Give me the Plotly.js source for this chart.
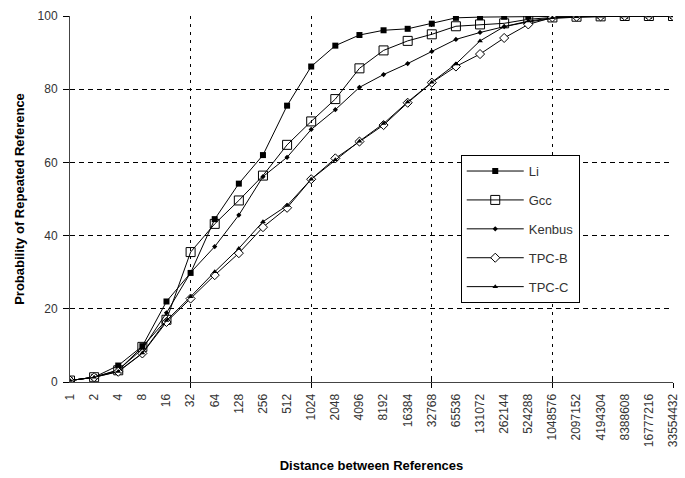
<!DOCTYPE html>
<html>
<head>
<meta charset="utf-8">
<script src="https://cdn.plot.ly/plotly-3.0.1.min.js"></script>
<style>html,body{margin:0;padding:0;background:#fff}#chart{width:685px;height:478px}</style>
</head>
<body>
<div id="chart"></div>
<script>
const distances = ["1","2","4","8","16","32","64","128","256","512","1024","2048","4096","8192","16384","32768","65536","131072","262144","524288","1048576","2097152","4194304","8388608","16777216","33554432"];
const li     = [0.4,1.3,4.5,9.8,22,29.8,44.5,54.2,62,75.5,86.2,91.9,94.8,96.1,96.5,97.9,99.5,99.7,99.8,99.9,99.9,100,100,100,100,100];
const gcc    = [0.4,1.3,3.2,9.6,17,35.5,43.2,49.6,56.4,64.8,71.2,77.3,85.7,90.6,93.2,95,97.2,97.7,98,99.1,99.6,99.8,99.9,100,100,100];
const kenbus = [0.4,1.3,3.3,9,18.9,29.9,37,45.6,56.1,61.4,69,74.4,80.5,84,87,90.3,93.6,95.5,97.1,98.4,99.3,99.7,99.9,100,100,100];
const tpcb   = [0.4,1.3,2.8,7.8,16.4,22.8,29.2,35.2,42.3,47.6,55.4,61.1,65.7,70.2,76.3,81.8,86.2,89.6,94,97.7,99.6,99.8,99.9,100,100,100];
const tpcc   = [0.4,1.3,2.9,7.9,16.8,23.3,30.1,36.5,43.8,48.2,55.4,60.7,65.8,70.6,76.5,81.9,86.9,93.2,97.1,98.6,99.5,99.8,99.9,100,100,100];
const gridCats = ["32","1024","32768","1048576","33554432"];
const yTicks = [0,20,40,60,80,100];

const seriesNames = ["Li","Gcc","Kenbus","TPC-B","TPC-C"];
const seriesData = [li,gcc,kenbus,tpcb,tpcc];
const markers = [
  {symbol:"square", size:6, color:"#000", line:{color:"#000",width:0}},
  {symbol:"square-open", size:9, color:"#000", line:{color:"#000",width:1}},
  {symbol:"diamond", size:4, color:"#000", line:{color:"#000",width:0}},
  {symbol:"diamond", size:7, color:"#fff", line:{color:"#000",width:1}},
  {symbol:"triangle-up", size:5, color:"#000", line:{color:"#000",width:0}}
];

const traces = seriesNames.map((n,i)=>({
  type:"scatter", mode:"lines+markers", name:n, legendgroup:n,
  x: distances, y: seriesData[i],
  line:{color:"#000", width:1},
  marker: Object.assign({}, markers[i], {line:Object.assign({}, markers[i].line)})
}));

const tickFont = {family:"Liberation Sans, Arial, sans-serif", size:12, color:"#333"};
const titleFont = {family:"Liberation Sans, Arial, sans-serif", size:13, color:"#000", weight:"bold"};

const catAxisBase = {type:"category", categoryorder:"array", categoryarray:distances, range:[0,25]};

const layout = {
  width:685, height:478,
  margin:{l:70, r:12, t:16, b:96},
  paper_bgcolor:"#fff", plot_bgcolor:"#fff",
  showlegend:true,
  legend:{x:0.648, y:0.62, xanchor:"left", yanchor:"top",
    bordercolor:"#000", borderwidth:1, bgcolor:"#fff",
    font:{family:"Liberation Sans, Arial, sans-serif", size:13, color:"#333"},
    tracegroupgap:9, itemwidth:57},
  xaxis: Object.assign({}, catAxisBase, {
    tickmode:"array", tickvals:distances, ticktext:distances,
    tickangle:-90, ticks:"", tickfont:tickFont, ticklabelstandoff:6,
    showgrid:false, zeroline:false,
    showline:true, linecolor:"#444", linewidth:1,
    title:{text:"Distance between References", font:titleFont, standoff:14}
  }),
  xaxis2: Object.assign({}, catAxisBase, {
    overlaying:"x", anchor:"y", side:"bottom",
    tickmode:"array", tickvals:gridCats, showticklabels:false,
    ticks:"inside", ticklen:5, tickcolor:"#000", tickwidth:1,
    showgrid:true, gridcolor:"#000", gridwidth:1, griddash:"3px,5px",
    showline:false, zeroline:false
  }),
  xaxis3: Object.assign({}, catAxisBase, {
    overlaying:"x", anchor:"y", side:"bottom",
    tickmode:"array", tickvals:gridCats, showticklabels:false,
    ticks:"outside", ticklen:5, tickcolor:"#000", tickwidth:1,
    showgrid:false, showline:false, zeroline:false
  }),
  yaxis:{
    range:[0,100], tickmode:"array", tickvals:yTicks,
    ticks:"outside", ticklen:6, tickcolor:"#000", tickwidth:1,
    tickfont:tickFont, ticklabelstandoff:3,
    showgrid:true, gridcolor:"#000", gridwidth:1, griddash:"5px,4px",
    zeroline:false, showline:true, linecolor:"#444", linewidth:1,
    title:{text:"Probability of Repeated Reference", font:titleFont, standoff:10}
  }
};

traces.unshift({type:"scatter", x:distances, y:li, xaxis:"x2", mode:"none", showlegend:false, hoverinfo:"skip"});
traces.unshift({type:"scatter", x:distances, y:li, xaxis:"x3", mode:"none", showlegend:false, hoverinfo:"skip"});

Plotly.newPlot("chart", traces, layout, {staticPlot:true});
</script>
</body>
</html>
